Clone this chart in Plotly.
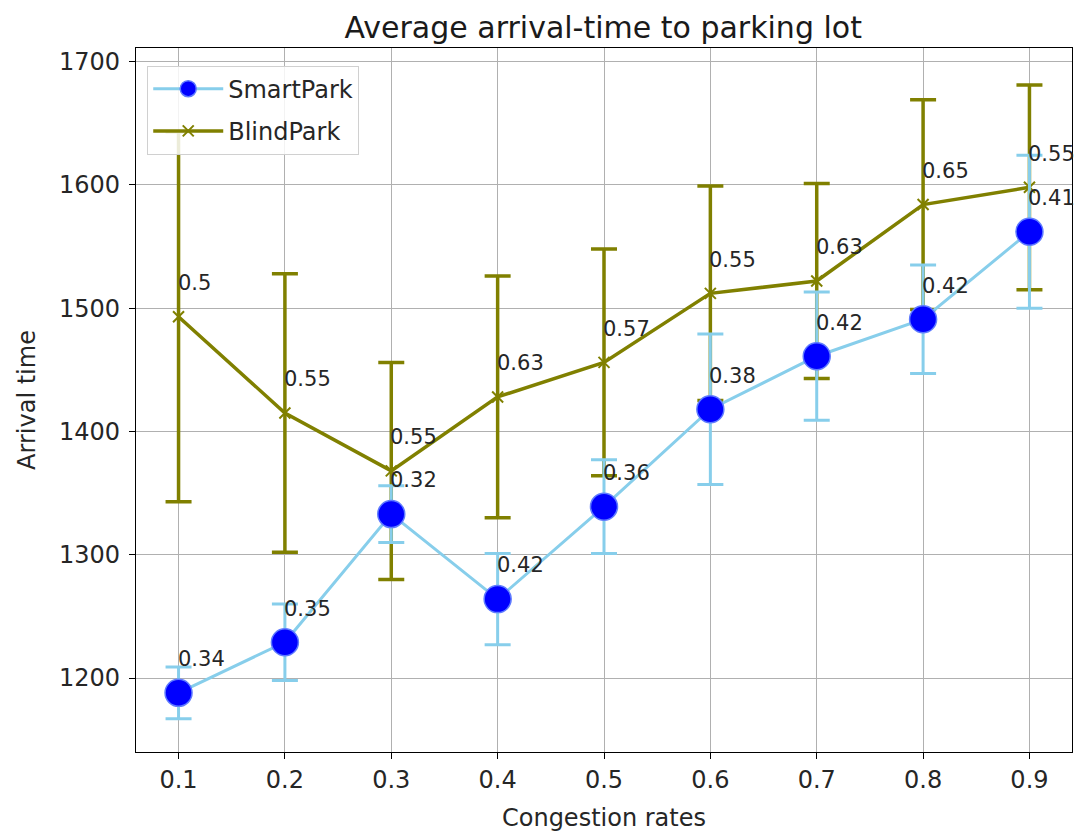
import plotly.graph_objects as go

# Congestion rates on the x axis
rates = [0.1, 0.2, 0.3, 0.4, 0.5, 0.6, 0.7, 0.8, 0.9]

# Mean arrival time and its spread for each strategy
smart_mean = [1188, 1229, 1333, 1264, 1339, 1418, 1461, 1491, 1562]
smart_err = [21, 31, 23, 37, 38, 61, 52, 44, 62]
smart_labels = ["0.34", "0.35", "0.32", "0.42", "0.36", "0.38", "0.42", "0.42", "0.41"]

blind_mean = [1493, 1415, 1368, 1428, 1456, 1512, 1522, 1584, 1598]
blind_err = [150, 113, 88, 98, 92, 87, 79, 85, 83]
blind_labels = ["0.5", "0.55", "0.55", "0.63", "0.57", "0.55", "0.63", "0.65", "0.55"]

x_ticks = [0.1, 0.2, 0.3, 0.4, 0.5, 0.6, 0.7, 0.8, 0.9]
y_ticks = [1200, 1300, 1400, 1500, 1600, 1700]

FONT = "DejaVu Sans"
TXT = "#262626"

fig = go.Figure()

fig.add_trace(go.Scatter(
    x=rates, y=blind_mean, name="BlindPark", mode="lines+markers",
    line=dict(color="olive", width=3.5),
    marker=dict(symbol="x-thin", size=11, line=dict(color="olive", width=2), color="olive"),
    error_y=dict(type="data", array=blind_err, visible=True, color="olive",
                 thickness=3.5, width=13),
    legendrank=2, legendgroup="b",
))

fig.add_trace(go.Scatter(
    x=rates, y=smart_mean, name="SmartPark", mode="lines+markers",
    line=dict(color="skyblue", width=3),
    marker=dict(symbol="circle", size=27, color="blue", line=dict(color="#5f7bff", width=1.5)),
    error_y=dict(type="data", array=smart_err, visible=True, color="skyblue",
                 thickness=3, width=13),
    legendrank=1, legendgroup="s",
))

annotations = []
for xs, ys, labs in [(rates, smart_mean, smart_labels), (rates, blind_mean, blind_labels)]:
    for xv, yv, lab in zip(xs, ys, labs):
        annotations.append(dict(
            x=xv, y=yv + 20, text=lab, showarrow=False, xref="x", yref="y",
            xanchor="left", yanchor="bottom", xshift=-3, yshift=-5,
            font=dict(family=FONT, size=21, color=TXT),
        ))

axis_common = dict(
    showline=True, linecolor="black", linewidth=1.3, mirror=True,
    showgrid=True, gridcolor="#b0b0b0", gridwidth=1,
    ticks="outside", ticklen=6, tickcolor="black", tickwidth=1,
    tickfont=dict(family=FONT, size=24, color=TXT),
    zeroline=False, automargin=False,
)

fig.update_layout(
    width=1084, height=835,
    margin=dict(l=136, r=12, t=48, b=83),
    paper_bgcolor="white", plot_bgcolor="white",
    title=dict(text="Average arrival-time to parking lot", x=0.5565, xanchor="center",
               y=0.967, yanchor="middle",
               font=dict(family=FONT, size=30, color="#1a1a1a")),
    xaxis=dict(range=[0.06, 0.94], tickvals=x_ticks,
               ticktext=[f"{v:.1f}" for v in x_ticks],
               title=dict(text="Congestion rates", font=dict(family=FONT, size=24, color=TXT),
                          standoff=16),
               **axis_common),
    yaxis=dict(range=[1140, 1711], tickvals=y_ticks, ticklabelstandoff=4,
               title=dict(text="Arrival time", font=dict(family=FONT, size=24, color=TXT),
                          standoff=16),
               **axis_common),
    legend=dict(x=0.012, y=0.975, xanchor="left", yanchor="top",
                bgcolor="rgba(255,255,255,0.85)", bordercolor="#d0d0d0", borderwidth=1,
                font=dict(family=FONT, size=24, color=TXT), itemwidth=70,
                traceorder="grouped", tracegroupgap=8),
    annotations=annotations,
    showlegend=True,
)

fig.write_html("out.html")
